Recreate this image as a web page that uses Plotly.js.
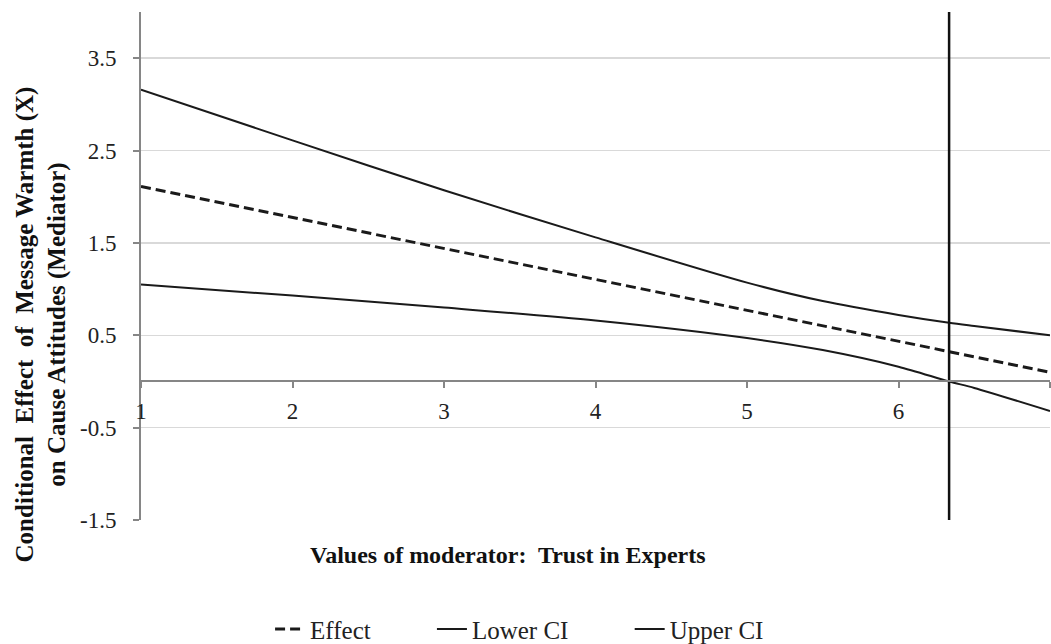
<!DOCTYPE html>
<html>
<head>
<meta charset="utf-8">
<script src="https://cdn.plot.ly/plotly-3.0.1.min.js"></script>
<style>
html,body{margin:0;padding:0;background:#fff;}
#chart{width:1051px;height:644px;}
</style>
</head>
<body>
<div id="chart"></div>
<script>
// Values of moderator (Trust in Experts)
const moderator = [1, 2, 3, 4, 5, 5.5, 6, 6.334, 6.5, 7];
const effect    = [2.11, 1.775, 1.44, 1.105, 0.77, 0.605, 0.44, 0.32, 0.27, 0.10];
const lowerCI   = [1.05, 0.93, 0.80, 0.66, 0.47, 0.34, 0.16, 0.0, -0.07, -0.32];
const upperCI   = [3.16, 2.61, 2.07, 1.56, 1.07, 0.87, 0.72, 0.635, 0.60, 0.50];
// Johnson-Neyman point
const jnPoint = 6.334;
const seriesNames = ['Effect', 'Lower CI', 'Upper CI'];
const xTicks = [1, 2, 3, 4, 5, 6, 7];
const yTicks = [-1.5, -0.5, 0.5, 1.5, 2.5, 3.5];
const yRange = [-1.5, 4.0];

const FONT = 'Liberation Serif';
const lineCol = '#1a1a1a';
const axisCol = '#868686';
const pad = '\u00a0'.repeat(9);

const traces = [
  {x: moderator, y: effect, name: seriesNames[0] + pad, mode: 'lines',
   line: {color: lineCol, width: 3, dash: '10px,5px'}},
  {x: moderator, y: lowerCI, name: seriesNames[1] + pad, mode: 'lines',
   line: {color: lineCol, width: 2, shape: 'spline', smoothing: 0.8}},
  {x: moderator, y: upperCI, name: seriesNames[2], mode: 'lines',
   line: {color: lineCol, width: 2, shape: 'spline', smoothing: 0.8}},
  {x: [jnPoint, jnPoint], y: yRange, mode: 'lines', showlegend: false, hoverinfo: 'skip',
   line: {color: '#111', width: 2.5}}
];

const zeroPos = (0 - yRange[0]) / (yRange[1] - yRange[0]);

const layout = {
  width: 1051, height: 644,
  margin: {l: 141, r: 1, t: 12, b: 124, autoexpand: false},
  paper_bgcolor: '#fff', plot_bgcolor: '#fff',
  font: {family: FONT, size: 22, color: '#222'},
  showlegend: true,
  legend: {orientation: 'h', x: 0.142, xanchor: 'left', yref: 'container', y: 0.023, yanchor: 'middle',
           font: {family: FONT, size: 25, color: '#222'}, traceorder: 'normal'},
  xaxis: {range: [1, 7], tickvals: xTicks, anchor: 'free', position: zeroPos,
          showline: true, linecolor: axisCol, linewidth: 2,
          ticks: 'outside', ticklen: 6, tickcolor: axisCol, tickwidth: 2,
          showgrid: false, zeroline: false, ticklabelstandoff: 3,
          tickfont: {family: FONT, size: 23, color: '#222'}},
  yaxis: {range: yRange, tickvals: yTicks, ticktext: yTicks.map(v => v.toFixed(1)),
          showline: true, linecolor: axisCol, linewidth: 2,
          ticks: 'outside', ticklen: 6, tickcolor: axisCol, tickwidth: 2,
          showgrid: true, gridcolor: '#d9d9d9', gridwidth: 1.5, zeroline: false,
          ticklabelstandoff: 12,
          tickfont: {family: FONT, size: 23, color: '#222'}},
  annotations: [
    {text: '<b>Values of moderator:  Trust in Experts</b>', xref: 'paper', yref: 'paper',
     x: 0.404, y: -0.069, xanchor: 'center', yanchor: 'middle', showarrow: false,
     font: {family: FONT, size: 24, color: '#111'}},
    {text: '<b>Conditional  Effect  of  Message Warmth (X)<br>on Cause Attitudes (Mediator)</b>',
     xref: 'paper', yref: 'paper', x: -0.110, y: 0.385, xanchor: 'center', yanchor: 'middle',
     textangle: -90, showarrow: false, font: {family: FONT, size: 25, color: '#111'}}
  ]
};

Plotly.newPlot('chart', traces, layout, {staticPlot: true, displayModeBar: false});
</script>
</body>
</html>
